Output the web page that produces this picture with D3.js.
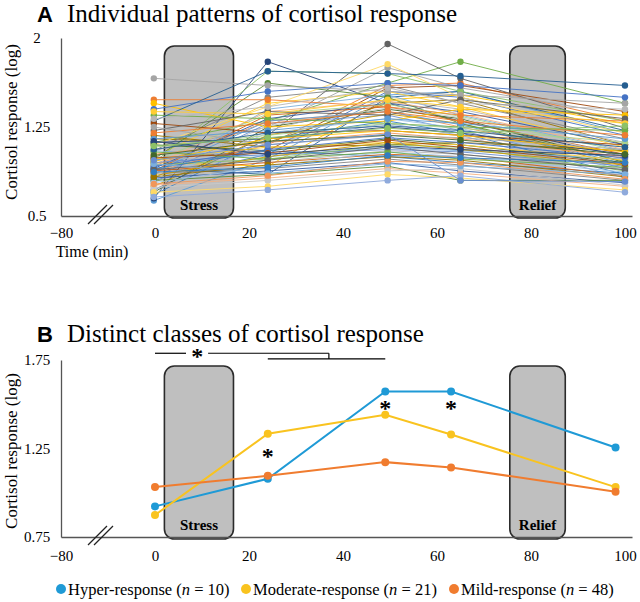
<!DOCTYPE html>
<html><head><meta charset="utf-8">
<script src="https://cdn.jsdelivr.net/npm/d3@7"></script>
<style>
body{margin:0;background:#fff}
</style>
</head><body>
<svg id="c" width="640" height="602" font-family="Liberation Serif, Times New Roman, DejaVu Serif, serif"></svg>
<script>
// ---------- data ----------
const timesA = [-1, 24, 49.5, 65, 100];
const timesB = [0, 24, 49, 63, 98];
const xTickValues = [-80, 0, 20, 40, 60, 80, 100];
const yTicksA = [0.5, 1.25, 2];
const yTicksB = [0.75, 1.25, 1.75];
const stressWindow = [2, 16.7];
const reliefWindow = [75.5, 87.3];

// individual trajectories (log cortisol at the five sampling times)
const individuals = [
 [0.63,0.98,1.52,1.55,1.20],[0.88,1.10,1.60,1.62,1.30],[1.05,1.25,1.75,1.58,1.35],[0.95,0.92,1.48,1.52,1.28],
 [0.80,1.02,1.55,1.50,1.18],[1.12,1.30,1.62,1.80,1.45],[0.90,0.85,1.50,1.55,1.22],[0.98,1.05,1.58,1.60,1.38],
 [0.72,1.18,1.95,1.66,1.24],[1.15,1.12,1.45,1.48,1.10],[0.65,1.80,1.45,1.30,1.00],[0.70,1.25,1.40,1.32,0.95],
 [0.85,1.40,1.52,1.35,1.05],[0.92,1.30,1.38,1.25,0.98],[0.78,1.22,1.48,1.40,1.12],[1.00,1.45,1.55,1.42,1.08],
 [0.82,1.28,1.35,1.22,0.90],[0.95,1.72,1.70,1.55,1.30],[0.68,1.15,1.30,1.20,0.85],[0.88,1.35,1.42,1.30,1.02],
 [1.05,1.50,1.60,1.45,1.15],[0.75,1.18,1.36,1.28,0.92],[0.90,1.32,1.45,1.38,1.10],[0.98,1.62,1.50,1.28,0.96],
 [0.80,1.20,1.32,1.24,0.88],[0.93,1.38,1.47,1.36,1.06],[0.85,1.26,1.41,1.33,1.00],[1.10,1.42,1.78,1.50,1.20],
 [0.72,1.12,1.28,1.18,0.82],[0.96,1.36,1.44,1.34,1.04],[0.87,1.30,1.38,1.27,0.94],[1.48,1.48,1.42,1.35,1.30],
 [1.66,1.60,1.55,1.52,1.45],[1.45,1.25,1.30,1.40,1.35],[1.40,1.55,1.62,1.60,1.50],[1.35,1.32,1.28,1.25,1.22],
 [1.30,1.72,1.70,1.68,1.60],[1.28,1.20,1.22,1.18,1.10],[1.22,1.38,1.35,1.48,1.32],[1.18,1.08,1.10,1.12,1.05],
 [1.12,1.15,1.25,1.20,1.02],[1.10,1.05,1.15,1.10,0.95],[1.05,1.00,1.08,1.05,0.98],[1.02,1.12,1.20,1.15,1.00],
 [1.00,0.95,1.05,1.02,0.90],[0.98,1.08,1.12,1.10,0.97],[0.95,1.02,1.06,1.04,0.92],[0.93,0.98,1.10,1.08,0.88],
 [0.90,1.05,1.00,0.95,0.86],[0.88,0.95,1.02,1.00,0.84],[0.86,0.90,0.98,0.93,0.80],[0.84,1.00,1.12,1.06,0.93],
 [0.82,0.88,0.95,0.88,0.78],[0.80,0.85,0.92,0.80,0.80],[0.78,0.92,1.04,1.00,0.87],[0.76,0.82,0.90,0.86,0.75],
 [0.74,0.80,0.88,0.90,0.76],[0.70,0.75,0.85,0.82,0.72],[0.66,0.72,0.80,0.84,0.70],[1.08,1.18,1.28,1.24,1.12],
 [1.15,1.22,1.32,1.28,1.15],[1.20,1.28,1.38,1.30,1.18],[1.25,1.10,1.18,1.16,1.06],[0.96,1.15,1.22,1.18,1.04],
 [0.92,1.06,1.16,1.12,0.99],[1.04,0.98,1.04,0.98,0.91],[1.06,1.20,1.26,1.22,1.08],[0.99,1.03,1.14,1.08,0.94],
 [0.89,0.97,1.08,1.02,0.89],[0.83,0.93,1.00,0.97,0.83],[1.13,1.02,1.09,1.06,1.01],[1.01,1.13,1.18,1.14,1.02],
 [0.94,0.86,0.94,0.92,0.85],[0.77,0.84,0.96,0.95,0.81],[1.32,1.42,1.58,1.45,1.40],[1.38,1.36,1.48,1.42,1.28],
 [0.97,1.10,1.19,0.80,0.79],[1.09,1.16,1.24,1.20,1.26],[0.87,0.91,1.01,0.99,0.95]
];
const palette = ["#5B9BD5","#ED7D31","#A5A5A5","#FFC000","#4472C4","#70AD47",
 "#255E91","#9E480E","#636363","#997300","#264478","#43682B",
 "#7CAFDD","#F1975A","#B7B7B7","#FFCD33","#698ED0","#8CC168",
 "#327DC2","#D26012","#848484","#CC9A00","#335AA1","#5A8A39",
 "#9DC3E6","#F4B183","#C9C9C9","#FFD966","#8FAADC","#A9D18E"];

// latent classes
const classNames = ["Hyper-response","Moderate-response","Mild-response"];
const classN = [10, 21, 48];
const hyperValues = [0.923,1.079,1.572,1.572,1.256];
const moderateValues = [0.874,1.333,1.440,1.329,1.032];
const mildValues = [1.032,1.096,1.173,1.143,1.006];
const classColors = ["#1F9AD6","#F9C31F","#F07C2F"];
const sigStars = [[24,1.227],[49,1.497],[63,1.497]];
const bracketUpper = {y:1.788, x0:0, gap:[6.6,11.3], x1:37, star:9};
const bracketLower = {y:1.756, x0:24, x1:49};

// ---------- drawing ----------
const SERIF = "Liberation Serif, Times New Roman, DejaVu Serif, serif";
const svg = d3.select("#c");
const x = d3.scaleLinear().domain([-80,0,101.5]).range([61,155,632]);
const yA = d3.scaleLinear().domain([0.5,2]).range([216,38]);
const yB = d3.scaleLinear().domain([0.75,1.75]).range([537,360]);
const axisColor = "#555";

function txt(g){ return g.append("text").attr("font-family",SERIF).attr("fill","#000"); }

function frame(titleLetter, titleText, titleY, yLabelCenter){
  const g = svg.append("g");
  const t = txt(g).attr("x",37).attr("y",titleY);
  t.append("tspan").text(titleLetter).attr("font-family","Liberation Sans, Arial, sans-serif")
    .attr("font-weight","bold").attr("font-size",22);
  t.append("tspan").attr("x",67).attr("font-family",SERIF).text(titleText).attr("font-size",25);
  txt(g).attr("transform",`translate(17,${yLabelCenter}) rotate(-90)`)
    .attr("text-anchor","middle").attr("font-size",17).text("Cortisol response (log)");
  return g;
}

function boxes(g, y, top, labelY){
  const y0 = y.range()[0];
  [[stressWindow,"Stress"],[reliefWindow,"Relief"]].forEach(([w,lab])=>{
    g.append("rect").attr("x",x(w[0])).attr("y",y(top)).attr("width",x(w[1])-x(w[0]))
      .attr("height",y0-y(top)+2).attr("rx",10).attr("fill","#BFBFBF")
      .attr("stroke","#2b2b2b").attr("stroke-width",1.6);
    txt(g).attr("x",(x(w[0])+x(w[1]))/2).attr("y",labelY).attr("text-anchor","middle")
      .attr("font-size",15).attr("font-weight","bold").text(lab);
  });
}

function axes(g, y, yTicks, tickLabelY){
  const ax = g.append("g").attr("transform",`translate(0,${y.range()[0]})`)
    .call(d3.axisBottom(x).tickValues(xTickValues).tickSize(0).tickPadding(0));
  ax.attr("font-family",SERIF).attr("font-size",15);
  ax.select(".domain").attr("stroke",axisColor).attr("stroke-width",1.3);
  ax.selectAll("text").attr("y",tickLabelY - y.range()[0]).attr("dy",0).attr("fill","#000");
  const ay = g.append("g").attr("transform",`translate(${x(-80)},0)`)
    .call(d3.axisLeft(y).tickValues(yTicks).tickSize(0).tickFormat(d=>String(d)));
  ay.attr("font-family",SERIF).attr("font-size",15);
  ay.select(".domain").attr("stroke",axisColor).attr("stroke-width",1.3);
  ay.selectAll("text").attr("x",-24).attr("text-anchor","middle").attr("dy","0.32em").attr("fill","#000");
  const yb = y.range()[0];
  [0,6].forEach(o=>{
    g.append("line").attr("x1",88+o).attr("y1",yb+8).attr("x2",107+o).attr("y2",yb-11)
      .attr("stroke","#222").attr("stroke-width",1.3);
  });
}

// Panel A
const gA = frame("A", "Individual patterns of cortisol response", 22, 122);
boxes(gA, yA, 1.933, 210);
const lineA = d3.line().x((d,i)=>x(timesA[i])).y(d=>yA(d));
individuals.forEach((row,k)=>{
  const col = palette[k % palette.length];
  gA.append("path").attr("d",lineA(row)).attr("fill","none").attr("stroke",col)
    .attr("stroke-width",1).attr("opacity",0.9);
  gA.selectAll(null).data(row).enter().append("circle")
    .attr("cx",(d,i)=>x(timesA[i])).attr("cy",d=>yA(d)).attr("r",3.2).attr("fill",col);
});
axes(gA, yA, yTicksA, 238);
txt(gA).attr("x",92).attr("y",257).attr("text-anchor","middle").attr("font-size",16).text("Time (min)");

// Panel B
const gB = frame("B", "Distinct classes of cortisol response", 342, 451);
boxes(gB, yB, 1.716, 530);
const lineB = d3.line().x((d,i)=>x(timesB[i])).y(d=>yB(d));
[hyperValues, moderateValues, mildValues].forEach((vals,k)=>{
  gB.append("path").attr("d",lineB(vals)).attr("fill","none").attr("stroke",classColors[k]).attr("stroke-width",2);
  gB.selectAll(null).data(vals).enter().append("circle")
    .attr("cx",(d,i)=>x(timesB[i])).attr("cy",d=>yB(d)).attr("r",4).attr("fill",classColors[k]);
});
axes(gB, yB, yTicksB, 561);
sigStars.forEach(([t,v])=>{
  txt(gB).attr("x",x(t)).attr("y",yB(v)+11).attr("text-anchor","middle")
    .attr("font-size",24).attr("font-weight","bold").text("*");
});
const bl = (x0,y0,x1,y1)=>gB.append("line").attr("x1",x0).attr("y1",y0).attr("x2",x1).attr("y2",y1)
  .attr("stroke","#000").attr("stroke-width",1.2);
bl(x(bracketUpper.x0),yB(bracketUpper.y),x(bracketUpper.gap[0]),yB(bracketUpper.y));
bl(x(bracketUpper.gap[1]),yB(bracketUpper.y),x(bracketUpper.x1),yB(bracketUpper.y));
bl(x(bracketUpper.x1),yB(bracketUpper.y),x(bracketUpper.x1),yB(bracketLower.y));
bl(x(bracketLower.x0),yB(bracketLower.y),x(bracketLower.x1),yB(bracketLower.y));
txt(gB).attr("x",x(bracketUpper.star)).attr("y",yB(bracketUpper.y)+11).attr("text-anchor","middle")
  .attr("font-size",24).attr("font-weight","bold").text("*");

// legend
const legX = [61, 246, 454];
classNames.forEach((nm,k)=>{
  svg.append("circle").attr("cx",legX[k]).attr("cy",589).attr("r",5).attr("fill",classColors[k]);
  const t = txt(svg).attr("x",legX[k]+7).attr("y",595).attr("font-size",16.5);
  t.append("tspan").text(nm+" (");
  t.append("tspan").attr("font-style","italic").text("n");
  t.append("tspan").text(" = "+classN[k]+")");
});
</script>
</body></html>
